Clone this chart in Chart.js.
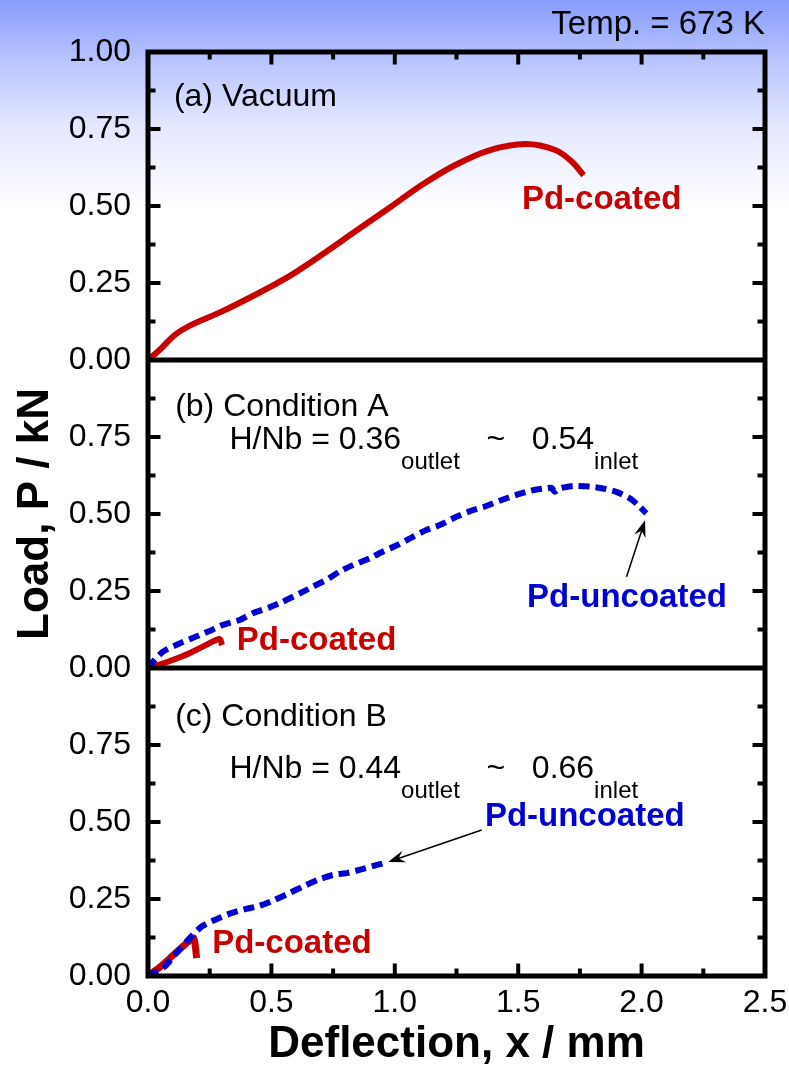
<!DOCTYPE html>
<html>
<head>
<meta charset="utf-8">
<title>Load vs deflection</title>
<script src="https://cdn.jsdelivr.net/npm/chart.js@4.4.1/dist/chart.umd.min.js"></script>
<style>
  html, body { margin: 0; padding: 0; background: #fff; }
  #wrap { width: 789px; height: 1074px; }
</style>
</head>
<body>
<div id="wrap"><canvas id="chart" width="789" height="1074"></canvas></div>
<script>
// axis ticks
const xTicks = [0, 0.5, 1.0, 1.5, 2.0, 2.5];
const xTickMarks = [0.25, 0.5, 0.75, 1.0, 1.25, 1.5, 1.75, 2.0, 2.25];
const loadTicks = [0, 0.25, 0.5, 0.75, 1.0];
const loadTickMarks = [0.125, 0.25, 0.375, 0.5, 0.625, 0.75, 0.875];

// (a) Vacuum, Pd-coated
const vacCoatedX = [0, 0.05, 0.108, 0.176, 0.298, 0.433, 0.568, 0.703, 0.839, 0.974, 1.109, 1.245, 1.38, 1.529, 1.65, 1.718, 1.765];
const vacCoatedP = [0, 0.035, 0.081, 0.114, 0.157, 0.211, 0.27, 0.341, 0.417, 0.492, 0.568, 0.633, 0.68, 0.701, 0.682, 0.644, 0.60];

// (b) Condition A
const condACoatedX = [0, 0.05, 0.1, 0.168, 0.236, 0.29, 0.3];
const condACoatedP = [0, 0.012, 0.026, 0.048, 0.075, 0.094, 0.074];
const condAUncoatedX = [0, 0.02, 0.06, 0.128, 0.195, 0.249, 0.303, 0.371, 0.425, 0.492, 0.546, 0.614, 0.668, 0.722, 0.776, 0.83, 0.898, 0.952, 1.013, 1.073, 1.128, 1.182, 1.249, 1.317, 1.371, 1.425, 1.492, 1.553, 1.607, 1.635, 1.648, 1.668, 1.722, 1.79, 1.843, 1.898, 1.952, 1.992, 2.019];
const condAUncoatedP = [0, 0.02, 0.053, 0.08, 0.102, 0.12, 0.14, 0.156, 0.178, 0.197, 0.215, 0.242, 0.264, 0.286, 0.313, 0.334, 0.356, 0.378, 0.4, 0.426, 0.448, 0.464, 0.491, 0.513, 0.526, 0.543, 0.562, 0.576, 0.583, 0.585, 0.572, 0.583, 0.591, 0.589, 0.583, 0.572, 0.551, 0.524, 0.502];

// (c) Condition B
const condBCoatedX = [0, 0.05, 0.1, 0.155, 0.185, 0.192, 0.197];
const condBCoatedP = [0, 0.03, 0.066, 0.106, 0.124, 0.095, 0.058];
const condBUncoatedX = [0, 0.02, 0.067, 0.114, 0.168, 0.216, 0.27, 0.337, 0.398, 0.452, 0.513, 0.574, 0.627, 0.688, 0.749, 0.81, 0.864, 0.925, 0.95];
const condBUncoatedP = [0, 0.009, 0.03, 0.074, 0.122, 0.16, 0.182, 0.204, 0.218, 0.228, 0.247, 0.27, 0.29, 0.312, 0.328, 0.335, 0.346, 0.36, 0.365];

const FONT = '"Liberation Sans", Arial, Helvetica, sans-serif';
const RED = '#c80000';
const BLUE = '#0000d2';

const pts = (xs, ps) => xs.map((x, i) => ({ x: x, y: ps[i] }));

// gradient backdrop
const backdrop = {
  id: 'backdrop',
  beforeDraw(chart) {
    const { ctx, width, height } = chart;
    const g = ctx.createLinearGradient(0, 0, 0, 210);
    g.addColorStop(0, 'rgb(136,156,252)');
    g.addColorStop(0.3, 'rgb(186,198,255)');
    g.addColorStop(0.6, 'rgb(228,232,255)');
    g.addColorStop(1, '#ffffff');
    ctx.save();
    ctx.fillStyle = g;
    ctx.fillRect(0, 0, width, height);
    ctx.restore();
  }
};

// black frame around panels with inward ticks
const frame = {
  id: 'frame',
  afterDatasetsDraw(chart) {
    const { ctx, chartArea: a, scales } = chart;
    const line = (x1, y1, x2, y2) => { ctx.beginPath(); ctx.moveTo(x1, y1); ctx.lineTo(x2, y2); ctx.stroke(); };
    ctx.save();
    ctx.strokeStyle = '#000';
    ctx.lineCap = 'butt';
    ctx.lineWidth = 5;
    ctx.strokeRect(a.left, a.top, a.right - a.left, a.bottom - a.top);
    ['ya', 'yb'].forEach(id => {
      const y = scales[id].getPixelForValue(0);
      line(a.left, y, a.right, y);
    });
    ctx.lineWidth = 4;
    ['ya', 'yb', 'yc'].forEach(id => {
      loadTickMarks.forEach((v, k) => {
        const y = scales[id].getPixelForValue(v);
        const len = (k % 2 === 0 ? 5 : 10) + 2.5;
        line(a.left, y, a.left + len, y);
        line(a.right, y, a.right - len, y);
      });
    });
    xTickMarks.forEach((v, k) => {
      const x = scales.x.getPixelForValue(v);
      const len = (k % 2 === 0 ? 5 : 10) + 2.5;
      line(x, a.bottom, x, a.bottom - len);
      line(x, a.top, x, a.top + len);
    });
    ctx.restore();
  }
};

function arrow(ctx, x1, y1, x2, y2) {
  const ang = Math.atan2(y2 - y1, x2 - x1);
  const c = Math.cos(ang), s = Math.sin(ang);
  const L = 17, W = 6;
  ctx.beginPath();
  ctx.moveTo(x1, y1);
  ctx.lineTo(x2 - c * 10, y2 - s * 10);
  ctx.lineWidth = 1.5;
  ctx.stroke();
  ctx.beginPath();
  ctx.moveTo(x2, y2);
  ctx.lineTo(x2 - L * c - W * s, y2 - L * s + W * c);
  ctx.lineTo(x2 - 0.65 * L * c, y2 - 0.65 * L * s);
  ctx.lineTo(x2 - L * c + W * s, y2 - L * s - W * c);
  ctx.closePath();
  ctx.fill();
}

// panel labels, curve labels, arrows
const notes = {
  id: 'notes',
  afterDraw(chart) {
    const { ctx, chartArea: a, scales } = chart;
    const px = (x) => scales.x.getPixelForValue(x);
    const py = (id, p) => scales[id].getPixelForValue(p);
    ctx.save();
    ctx.textBaseline = 'middle';
    ctx.fillStyle = '#000';
    ctx.font = '33px ' + FONT;
    ctx.textAlign = 'right';
    ctx.fillText('Temp. = 673 K', a.right, a.top - 27);
    ctx.font = '32px ' + FONT;
    ctx.textAlign = 'left';
    ctx.fillText('(a) Vacuum', px(0.105), py('ya', 0.854));
    ctx.fillText('(b) Condition A', px(0.11), py('yb', 0.847));
    ctx.fillText('(c) Condition B', px(0.11), py('yc', 0.84));

    const hnb = (id, p, lo, hi) => {
      let x = px(0.33);
      const y = py(id, p);
      ctx.font = '32px ' + FONT;
      ctx.fillText('H/Nb = ' + lo, x, y);
      x += ctx.measureText('H/Nb = ' + lo).width;
      ctx.font = '24px ' + FONT;
      ctx.fillText('outlet', x, y + 22);
      x += ctx.measureText('outlet').width;
      ctx.font = '32px ' + FONT;
      ctx.fillText('   ~   ' + hi, x, y);
      x += ctx.measureText('   ~   ' + hi).width;
      ctx.font = '24px ' + FONT;
      ctx.fillText('inlet', x, y + 22);
    };
    hnb('yb', 0.74, '0.36', '0.54');
    hnb('yc', 0.67, '0.44', '0.66');

    ctx.font = 'bold 33px ' + FONT;
    ctx.fillStyle = RED;
    ctx.fillText('Pd-coated', px(1.515), py('ya', 0.52));
    ctx.fillText('Pd-coated', px(0.36), py('yb', 0.088));
    ctx.fillText('Pd-coated', px(0.26), py('yc', 0.104));
    ctx.fillStyle = BLUE;
    ctx.fillText('Pd-uncoated', px(1.536), py('yb', 0.227));
    ctx.fillText('Pd-uncoated', px(1.365), py('yc', 0.516));

    ctx.fillStyle = '#000';
    ctx.strokeStyle = '#000';
    arrow(ctx, px(1.939), py('yb', 0.296), px(2.014), py('yb', 0.48));
    arrow(ctx, px(1.352), py('yc', 0.474), px(0.973), py('yc', 0.37));
    ctx.restore();
  }
};

const loadAxis = (id, weight, showTop, title) => ({
  type: 'linear',
  position: 'left',
  stack: 'panels',
  stackWeight: 1,
  weight: weight,
  min: 0,
  max: 1,
  afterBuildTicks: (s) => { s.ticks = loadTicks.map(v => ({ value: v })); },
  afterFit: (s) => { s.width = 148; },
  grid: { display: false, drawTicks: false },
  border: { display: false },
  ticks: {
    color: '#000',
    font: { family: FONT, size: 32 },
    padding: 17,
    autoSkip: false,
    callback: (v) => (v === 1 && !showTop) ? '' : v.toFixed(2)
  },
  title: title ? {
    display: true,
    text: title,
    color: '#000',
    font: { family: FONT, size: 44, weight: 'bold' },
    padding: { top: 9, bottom: 0 }
  } : { display: false }
});

new Chart(document.getElementById('chart'), {
  type: 'line',
  data: {
    datasets: [
      {
        label: 'Vacuum Pd-coated',
        data: pts(vacCoatedX, vacCoatedP),
        yAxisID: 'ya',
        borderColor: RED,
        borderWidth: 6,
        tension: 0.3
      },
      {
        label: 'Condition A Pd-uncoated',
        data: pts(condAUncoatedX, condAUncoatedP),
        yAxisID: 'yb',
        borderColor: BLUE,
        borderWidth: 6,
        borderDash: [11, 6],
        tension: 0.2
      },
      {
        label: 'Condition A Pd-coated',
        data: pts(condACoatedX, condACoatedP),
        yAxisID: 'yb',
        borderColor: RED,
        borderWidth: 6,
        tension: 0.3
      },
      {
        label: 'Condition B Pd-uncoated',
        data: pts(condBUncoatedX, condBUncoatedP),
        yAxisID: 'yc',
        borderColor: BLUE,
        borderWidth: 6,
        borderDash: [11, 6],
        tension: 0.2
      },
      {
        label: 'Condition B Pd-coated',
        data: pts(condBCoatedX, condBCoatedP),
        yAxisID: 'yc',
        borderColor: RED,
        borderWidth: 7,
        tension: 0.2
      }
    ]
  },
  options: {
    responsive: false,
    animation: false,
    devicePixelRatio: 1,
    elements: { point: { radius: 0 } },
    layout: { padding: { top: 52, right: 24, left: 0, bottom: 0 } },
    plugins: { legend: { display: false }, tooltip: { enabled: false } },
    scales: {
      x: {
        type: 'linear',
        position: 'bottom',
        min: 0,
        max: 2.5,
        afterBuildTicks: (s) => { s.ticks = xTicks.map(v => ({ value: v })); },
        afterFit: (s) => { s.height = 98; s.paddingLeft = 0; s.paddingRight = 0; },
        grid: { display: false, drawTicks: false },
        border: { display: false },
        ticks: {
          color: '#000',
          font: { family: FONT, size: 32 },
          padding: 8,
          maxRotation: 0,
          autoSkip: false,
          callback: (v) => v.toFixed(1)
        },
        title: {
          display: true,
          text: 'Deflection, x / mm',
          color: '#000',
          font: { family: FONT, size: 44, weight: 'bold' },
          padding: { top: 0, bottom: 3 }
        }
      },
      yc: loadAxis('yc', 1, false, null),
      yb: loadAxis('yb', 2, false, 'Load, P / kN'),
      ya: loadAxis('ya', 3, true, null)
    }
  },
  plugins: [backdrop, frame, notes]
});
</script>
</body>
</html>
